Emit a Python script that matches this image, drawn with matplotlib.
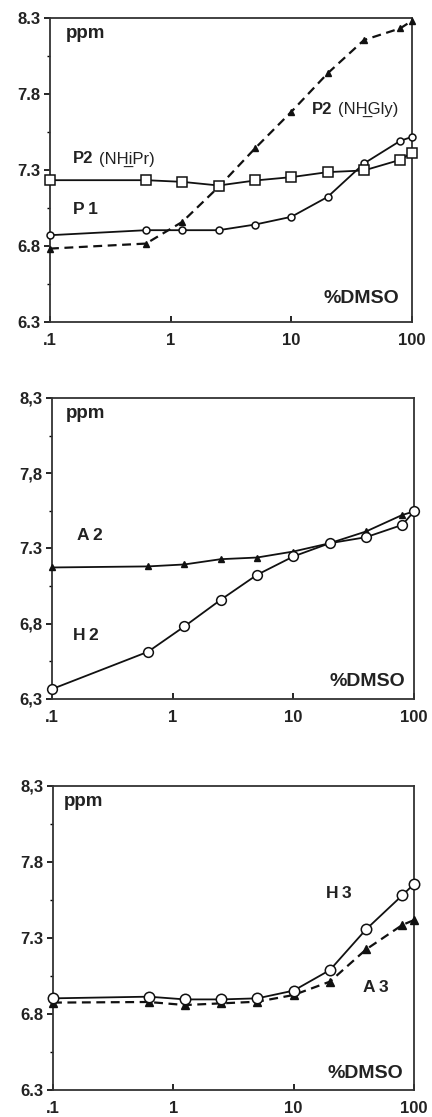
import matplotlib
matplotlib.use("Agg")
import matplotlib.pyplot as plt
from matplotlib.ticker import FixedLocator, NullLocator

# ---- data ----
dmso = [0.1, 0.625, 1.25, 2.5, 5, 10, 20, 40, 80, 100]

p2_nhipr = [7.233, 7.233, 7.222, 7.198, 7.231, 7.253, 7.286, 7.297, 7.367, 7.415]
p1 = [6.871, 6.904, 6.904, 6.904, 6.941, 6.992, 7.123, 7.343, 7.492, 7.518]
p2_nhgly = [6.783, 6.816, 6.959, 7.189, 7.442, 7.683, 7.936, 8.155, 8.232, 8.282]

a2 = [7.174, 7.181, 7.194, 7.229, 7.240, 7.280, 7.335, 7.413, 7.523, 7.546]
h2 = [6.366, 6.614, 6.782, 6.959, 7.125, 7.247, 7.335, 7.375, 7.457, 7.546]

h3 = [6.903, 6.914, 6.896, 6.896, 6.903, 6.954, 7.089, 7.357, 7.581, 7.655]
a3 = [6.875, 6.879, 6.859, 6.870, 6.881, 6.925, 7.013, 7.225, 7.386, 7.418]

yticks = [6.3, 6.8, 7.3, 7.8, 8.3]
ylabels_1 = ["6.3", "6.8", "7.3", "7.8", "8.3"]
ylabels_2 = ["6,3", "6,8", "7.3", "7,8", "8,3"]
ylabels_3 = ["6.3", "6.8", "7.3", "7.8", "8,3"]
xticks = [0.1, 1, 10, 100]
xlabels = [".1", "1", "10", "100"]

W, H = 432, 1117
fig = plt.figure(figsize=(W / 100, H / 100), dpi=100)
fig.patch.set_facecolor("white")

FONT = "Liberation Sans"
plt.rcParams["font.family"] = [FONT, "DejaVu Sans"]


def add_ax(left, right, top, bottom):
    return fig.add_axes([left / W, 1 - bottom / H, (right - left) / W, (bottom - top) / H])


def style(ax, ylabels):
    ax.set_xscale("log")
    ax.set_xlim(0.1, 100)
    ax.set_ylim(6.3, 8.3)
    ax.xaxis.set_major_locator(FixedLocator(xticks))
    ax.xaxis.set_minor_locator(NullLocator())
    ax.set_xticklabels(xlabels)
    ax.set_yticks(yticks)
    ax.set_yticklabels(ylabels)
    ax.yaxis.set_minor_locator(FixedLocator([6.55, 7.05, 7.55, 8.05]))
    ax.tick_params(axis="x", direction="in", length=4, width=1.2, labelsize=12, pad=8)
    ax.tick_params(axis="y", which="major", direction="out", length=4, width=1.2,
                   labelsize=12, pad=3)
    ax.tick_params(axis="y", which="minor", direction="out", length=2, width=1.0)
    for lab in ax.get_xticklabels() + ax.get_yticklabels():
        lab.set_fontweight("bold")
        lab.set_color("#222222")
    for s in ax.spines.values():
        s.set_linewidth(1.3)
        s.set_color("#333333")


def ftext(x, y, s, **kw):
    kw.setdefault("fontsize", 12.5)
    kw.setdefault("fontweight", "bold")
    kw.setdefault("color", "#222222")
    fig.text(x / W, 1 - y / H, s, va="center", ha="left", **kw)


LW = 1.3
DASH = (0, (4, 2.5))
U = "\u0332"

# ---- panel 1 ----
ax1 = add_ax(50, 412, 18, 322)
style(ax1, ylabels_1)
ax1.plot(dmso, p2_nhgly, color="#111111", lw=1.6, ls=DASH, marker="^", ms=5,
         mfc="#111111", mec="#111111", zorder=3, clip_on=False)
ax1.plot(dmso, p1, color="#111111", lw=LW, marker="o", ms=5, mfc="white",
         mec="#111111", mew=1.1, zorder=4, clip_on=False)
ax1.plot(dmso, p2_nhipr, color="#111111", lw=LW, marker="s", ms=7.5, mfc="white",
         mec="#111111", mew=1.1, zorder=4, clip_on=False)

ftext(66, 34, "ppm", fontsize=13.5)
ftext(312, 109, "P2", fontsize=12)
ftext(338, 109, "(NH" + U + "Gly)", fontsize=12, fontweight="normal")
ftext(73, 159, "P2", fontsize=12)
ftext(99, 159, "(NH" + U + "iPr)", fontsize=12, fontweight="normal")
ftext(73, 210, "P\u20091", fontsize=12.5)
ftext(323, 298, "%DMSO", fontsize=14)

# ---- panel 2 ----
ax2 = add_ax(52, 414, 398, 699)
style(ax2, ylabels_2)
ax2.plot(dmso, a2, color="#111111", lw=LW, marker="^", ms=5, mfc="#111111",
         mec="#111111", zorder=3, clip_on=False)
ax2.plot(dmso, h2, color="#111111", lw=LW, marker="o", ms=7, mfc="white",
         mec="#111111", mew=1.1, zorder=4, clip_on=False)

ftext(66, 413, "ppm", fontsize=13.5)
ftext(77, 536, "A\u20092")
ftext(73, 635, "H\u20092")
ftext(330, 681, "%DMSO", fontsize=14)

# ---- panel 3 ----
ax3 = add_ax(53, 414, 786, 1090)
style(ax3, ylabels_3)
ax3.plot(dmso, a3, color="#111111", lw=1.6, ls=DASH, marker="^", ms=6,
         mfc="#111111", mec="#111111", zorder=3, clip_on=False)
ax3.plot(dmso, h3, color="#111111", lw=LW, marker="o", ms=7.5, mfc="white",
         mec="#111111", mew=1.1, zorder=4, clip_on=False)

ftext(64, 802, "ppm", fontsize=13.5)
ftext(326, 894, "H\u20093")
ftext(363, 987, "A\u20093")
ftext(328, 1073, "%DMSO", fontsize=14)

fig.savefig("out.png", dpi=100, facecolor="white")
